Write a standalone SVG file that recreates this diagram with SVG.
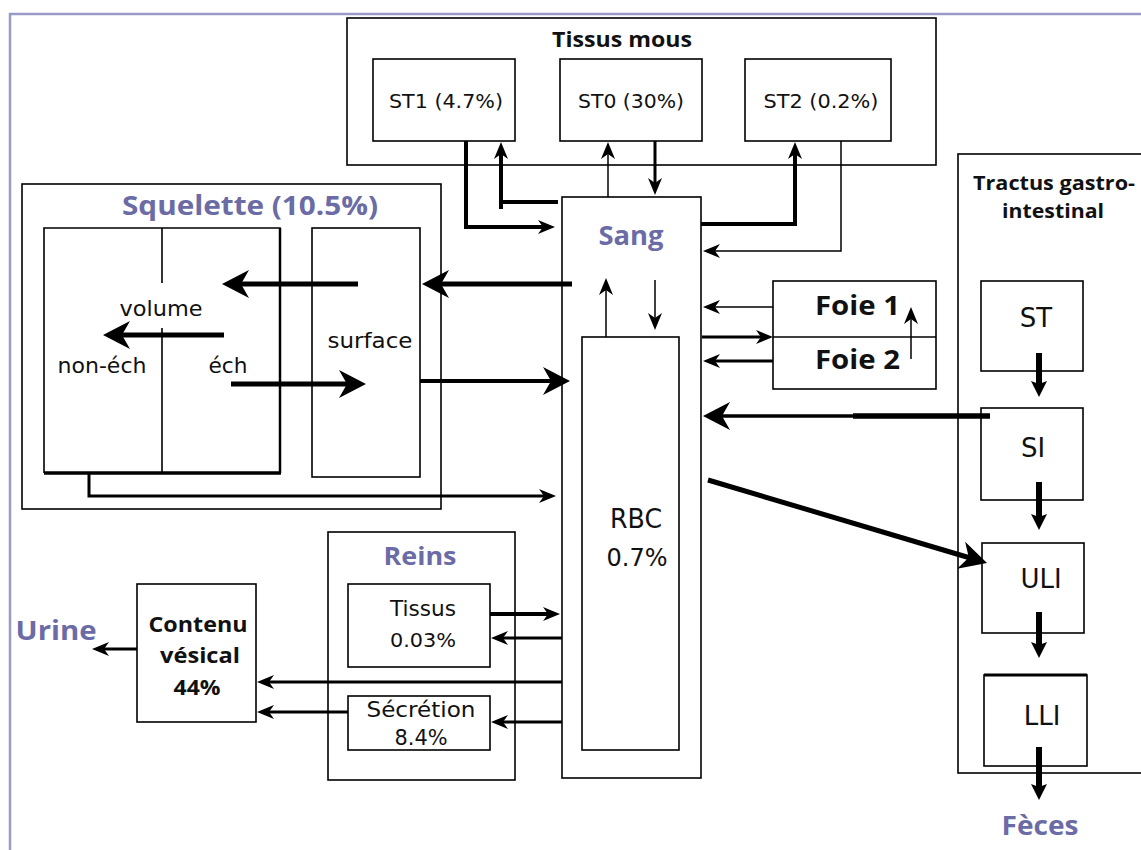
<svg xmlns="http://www.w3.org/2000/svg" width="1141" height="850" viewBox="0 0 1141 850">
<style>
.box{fill:none;stroke:#000;stroke-width:1.6}
.t{font-family:"DejaVu Sans","Liberation Sans",sans-serif;fill:#111;text-anchor:middle}
.b{font-family:"Open Sans","DejaVu Sans",sans-serif;font-weight:700;fill:#111;text-anchor:middle}
.p{fill:#6b6ba5}
.c{fill:none;stroke:#000;stroke-linejoin:miter}
</style>
<defs>
<marker id="mBig" markerUnits="userSpaceOnUse" orient="auto" refX="0" refY="0" markerWidth="40" markerHeight="40" viewBox="-20 -20 40 40" overflow="visible">
<path d="M14,0 L-13,-14 L-5,0 L-13,14 Z" fill="#000"/>
</marker>
<marker id="mMed" markerUnits="userSpaceOnUse" orient="auto" refX="0" refY="0" markerWidth="30" markerHeight="30" viewBox="-15 -15 30 30" overflow="visible">
<path d="M8,0 L-9,-7 L-4,0 L-9,7 Z" fill="#000"/>
</marker>
<marker id="mGI" markerUnits="userSpaceOnUse" orient="auto" refX="0" refY="0" markerWidth="30" markerHeight="30" viewBox="-15 -15 30 30" overflow="visible">
<path d="M10,0 L-6,-8 L-3,0 L-6,8 Z" fill="#000"/>
</marker>
</defs>
<rect width="1141" height="850" fill="#fff"/>
<path d="M10,850 V14 H1141" fill="none" stroke="#9a9ac8" stroke-width="2.5"/>

<g id="tissus-mous">
<rect class="box" x="347" y="18" width="589" height="147"/>
<text class="b" x="622" y="47" font-size="21" textLength="140" lengthAdjust="spacingAndGlyphs">Tissus mous</text>
</g>
<g id="st1">
<rect class="box" x="373" y="59" width="142" height="82"/>
<text class="t" x="446" y="108" font-size="20" textLength="114" lengthAdjust="spacingAndGlyphs">ST1 (4.7%)</text>
</g>
<g id="st0">
<rect class="box" x="560" y="59" width="142" height="82"/>
<text class="t" x="631" y="108" font-size="20" textLength="106" lengthAdjust="spacingAndGlyphs">ST0 (30%)</text>
</g>
<g id="st2">
<rect class="box" x="745" y="59" width="146" height="82"/>
<text class="t" x="821" y="108" font-size="20" textLength="115" lengthAdjust="spacingAndGlyphs">ST2 (0.2%)</text>
</g>

<g id="squelette">
<rect class="box" x="22" y="184" width="419" height="325"/>
<text class="b p" x="250" y="215" font-size="26" textLength="256" lengthAdjust="spacingAndGlyphs">Squelette (10.5%)</text>
</g>
<g id="volume">
<path class="box" d="M280,473 V228 H44 V473"/>
<path d="M44,473 H281" stroke="#000" stroke-width="3.5"/>
<path d="M280,228 V473" stroke="#000" stroke-width="2.5"/>
<path d="M162,228 V283 M162,328 V473" stroke="#000" stroke-width="1.6"/>
<text class="t" x="161" y="316" font-size="21" textLength="83" lengthAdjust="spacingAndGlyphs">volume</text>
<text class="t" x="102" y="373" font-size="21" textLength="89" lengthAdjust="spacingAndGlyphs">non-éch</text>
<text class="t" x="228" y="373" font-size="21" textLength="39" lengthAdjust="spacingAndGlyphs">éch</text>
</g>
<g id="surface">
<rect class="box" x="312" y="228" width="108" height="249"/>
<text class="t" x="370" y="348" font-size="21" textLength="85" lengthAdjust="spacingAndGlyphs">surface</text>
</g>

<g id="sang">
<rect class="box" x="562" y="197" width="139" height="581"/>
<text class="b p" x="631" y="245" font-size="26" textLength="65" lengthAdjust="spacingAndGlyphs">Sang</text>
</g>
<g id="rbc">
<rect class="box" x="582" y="337" width="97" height="413"/>
<text class="t" x="636" y="528" font-size="26" textLength="52" lengthAdjust="spacingAndGlyphs">RBC</text>
<text class="t" x="637" y="566" font-size="25" textLength="61" lengthAdjust="spacingAndGlyphs">0.7%</text>
</g>

<g id="foie">
<rect class="box" x="773" y="281" width="163" height="108"/>
<path d="M773,337 H936" stroke="#000" stroke-width="1.6"/>
<text class="b" x="815" y="315" font-size="26" textLength="85" lengthAdjust="spacingAndGlyphs" style="text-anchor:start">Foie 1</text>
<text class="b" x="815" y="369" font-size="26" textLength="85" lengthAdjust="spacingAndGlyphs" style="text-anchor:start">Foie 2</text>
</g>

<g id="tractus">
<rect class="box" x="958" y="154" width="190" height="619"/>
<text class="b" x="1054" y="190" font-size="20" textLength="162" lengthAdjust="spacingAndGlyphs">Tractus gastro-</text>
<text class="b" x="1053" y="218" font-size="20" textLength="102" lengthAdjust="spacingAndGlyphs">intestinal</text>
</g>
<g id="st">
<rect class="box" x="981" y="281" width="102" height="90"/>
<text class="t" x="1036" y="327" font-size="26">ST</text>
</g>
<g id="si">
<rect class="box" x="981" y="408" width="102" height="92"/>
<text class="t" x="1033" y="457" font-size="26">SI</text>
</g>
<g id="uli">
<rect class="box" x="982" y="543" width="102" height="90"/>
<text class="t" x="1041" y="588" font-size="26">ULI</text>
</g>
<g id="lli">
<rect class="box" x="984" y="675" width="103" height="91"/>
<path d="M984,675 H1087" stroke="#000" stroke-width="3"/>
<text class="t" x="1042" y="725" font-size="26">LLI</text>
</g>
<g id="feces">
<text class="b p" x="1040" y="835" font-size="26" textLength="77" lengthAdjust="spacingAndGlyphs">Fèces</text>
</g>

<g id="reins">
<rect class="box" x="328" y="532" width="187" height="248"/>
<text class="b p" x="420" y="565" font-size="25" textLength="73" lengthAdjust="spacingAndGlyphs">Reins</text>
</g>
<g id="reins-tissus">
<rect class="box" x="348" y="584" width="142" height="83"/>
<text class="t" x="423" y="616" font-size="21" textLength="66" lengthAdjust="spacingAndGlyphs">Tissus</text>
<text class="t" x="423" y="647" font-size="20" textLength="66" lengthAdjust="spacingAndGlyphs">0.03%</text>
</g>
<g id="secretion">
<rect class="box" x="348" y="696" width="142" height="54"/>
<text class="t" x="421" y="717" font-size="21" textLength="109" lengthAdjust="spacingAndGlyphs">Sécrétion</text>
<text class="t" x="421" y="745" font-size="21" textLength="53" lengthAdjust="spacingAndGlyphs">8.4%</text>
</g>
<g id="contenu">
<rect class="box" x="137" y="584" width="119" height="138"/>
<text class="b" x="198" y="632" font-size="22" textLength="99" lengthAdjust="spacingAndGlyphs">Contenu</text>
<text class="b" x="200" y="663" font-size="22" textLength="80" lengthAdjust="spacingAndGlyphs">vésical</text>
<text class="b" x="197" y="695" font-size="22" textLength="47" lengthAdjust="spacingAndGlyphs">44%</text>
</g>
<g id="urine">
<text class="b p" x="56" y="640" font-size="26" textLength="81" lengthAdjust="spacingAndGlyphs">Urine</text>
</g>

<g id="connectors">
<path class="c" d="M466,141 V227 H547" stroke-width="4" marker-end="url(#mMed)"/>
<path class="c" d="M558,202 H501" stroke-width="4"/>
<path class="c" d="M501,209 V150" stroke-width="4" marker-end="url(#mMed)"/>
<path class="c" d="M608,197 V150" stroke-width="1.5" marker-end="url(#mMed)"/>
<path class="c" d="M655,141 V187" stroke-width="3" marker-end="url(#mMed)"/>
<path class="c" d="M701,224 H795 V150" stroke-width="4" marker-end="url(#mMed)"/>
<path class="c" d="M841,141 V251 H711" stroke-width="1.5" marker-end="url(#mMed)"/>
<path class="c" d="M606,337 V286" stroke-width="1.5" marker-end="url(#mMed)"/>
<path class="c" d="M655,280 V322" stroke-width="1.5" marker-end="url(#mMed)"/>
<path class="c" d="M773,307 H711" stroke-width="1.5" marker-end="url(#mMed)"/>
<path class="c" d="M702,337 H765" stroke-width="3" marker-end="url(#mMed)"/>
<path class="c" d="M773,361 H711" stroke-width="3" marker-end="url(#mMed)"/>
<path class="c" d="M911,359 V315" stroke-width="1.5" marker-end="url(#mMed)"/>
<path class="c" d="M990,416 H853" stroke-width="5.5"/>
<path class="c" d="M855,416 H717" stroke-width="3.5" marker-end="url(#mBig)"/>
<path class="c" d="M708,480 L973.6,559" stroke-width="5" marker-end="url(#mBig)"/>
<path class="c" d="M1039,353 V387" stroke-width="6" marker-end="url(#mGI)"/>
<path class="c" d="M1039,482 V520" stroke-width="6" marker-end="url(#mGI)"/>
<path class="c" d="M1039,612 V648" stroke-width="6" marker-end="url(#mGI)"/>
<path class="c" d="M1039,747 V790" stroke-width="6" marker-end="url(#mGI)"/>
<path class="c" d="M572,284 H436" stroke-width="5" marker-end="url(#mBig)"/>
<path class="c" d="M358,284 H236" stroke-width="5" marker-end="url(#mBig)"/>
<path class="c" d="M224,335 H117" stroke-width="5" marker-end="url(#mBig)"/>
<path class="c" d="M231,384 H352" stroke-width="5" marker-end="url(#mBig)"/>
<path class="c" d="M420,381 H556" stroke-width="4" marker-end="url(#mBig)"/>
<path class="c" d="M89,474 V496 H548" stroke-width="3" marker-end="url(#mMed)"/>
<path class="c" d="M490,614 H552" stroke-width="4" marker-end="url(#mMed)"/>
<path class="c" d="M562,638 H499" stroke-width="3" marker-end="url(#mMed)"/>
<path class="c" d="M562,682 H265" stroke-width="3" marker-end="url(#mMed)"/>
<path class="c" d="M348,712 H265" stroke-width="3" marker-end="url(#mMed)"/>
<path class="c" d="M562,722 H499" stroke-width="3" marker-end="url(#mMed)"/>
<path class="c" d="M137,649 H100" stroke-width="3" marker-end="url(#mMed)"/>
</g>
</svg>
